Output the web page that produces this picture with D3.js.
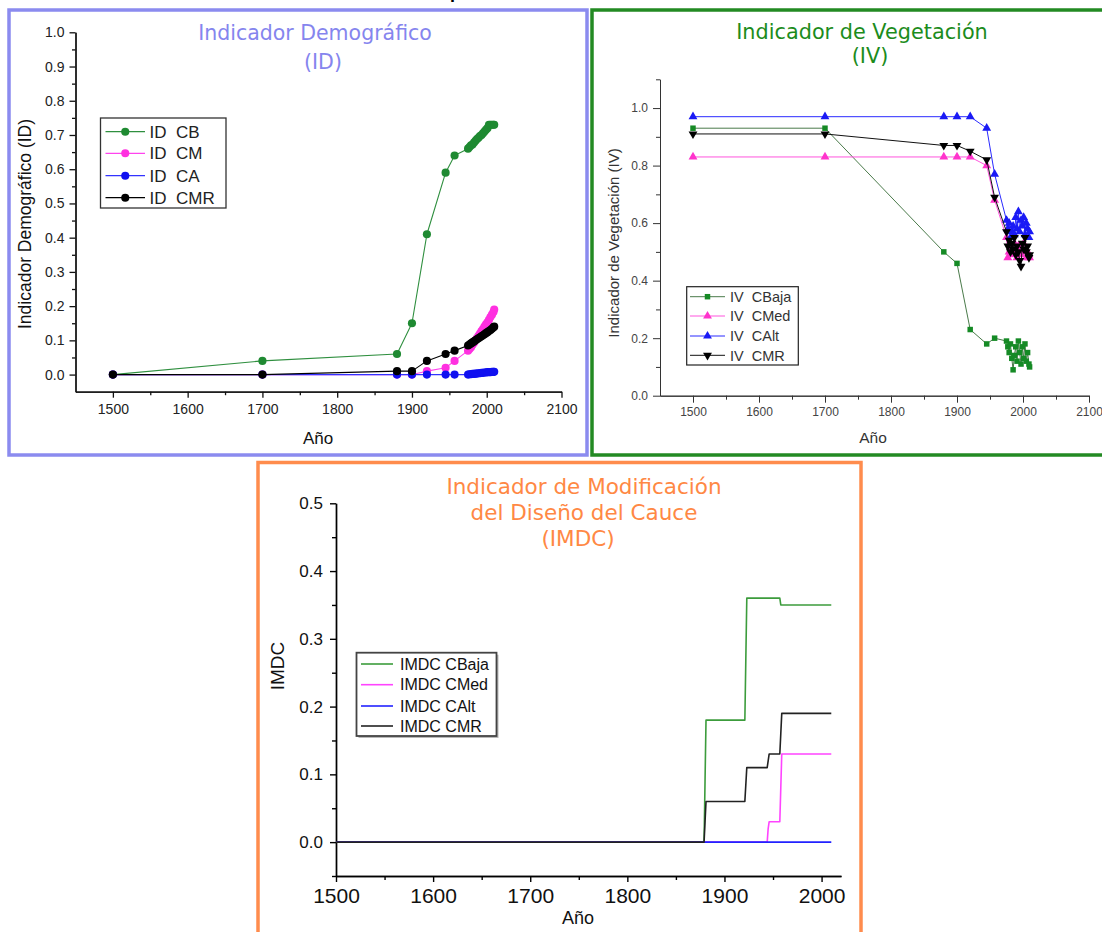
<!DOCTYPE html>
<html><head><meta charset="utf-8">
<script src="https://cdn.jsdelivr.net/npm/d3@7/dist/d3.min.js"></script>
<style>
body{margin:0;background:#fff;}
svg{display:block;}
text{font-family:"Liberation Sans",Arial,sans-serif;}
</style></head><body>
<svg id="c" width="1102" height="932"></svg>
<script>
// ---------------- DATA ----------------
// Panel 1: Indicador Demográfico (ID)
const idYears = [1500,1700,1880,1900,1920,1945,1957,1975,1977,1979,1981,1983,1985,1987,1989,1991,1993,1995,1997,1999,2001,2003,2005,2007,2009,2010];
const idCB  = [0,0.04,0.06,0.15,0.41,0.59,0.64, 0.66,0.665,0.67,0.672,0.678,0.683,0.688,0.692,0.697,0.70,0.705,0.71,0.715,0.72,0.73,0.73,0.73,0.73,0.73];
const idCM  = [0,0,0,0,0.01,0.02,0.04, 0.07,0.075,0.08,0.087,0.093,0.10,0.107,0.113,0.12,0.127,0.133,0.14,0.147,0.153,0.16,0.168,0.175,0.183,0.19];
const idCA  = [0,0,0,0,0,0,0, 0,0.001,0.001,0.002,0.002,0.003,0.003,0.004,0.004,0.005,0.005,0.006,0.006,0.007,0.007,0.007,0.008,0.008,0.008];
const idCMR = [0,0,0.01,0.01,0.04,0.06,0.07, 0.085,0.088,0.091,0.094,0.097,0.10,0.103,0.106,0.109,0.112,0.115,0.118,0.121,0.124,0.127,0.13,0.134,0.138,0.14];
const idNames = ["ID  CB","ID  CM","ID  CA","ID  CMR"];
const idXTicks = [1500,1600,1700,1800,1900,2000,2100];
const idYTicks = [0,0.1,0.2,0.3,0.4,0.5,0.6,0.7,0.8,0.9,1.0];

// Panel 2: Indicador de Vegetación (IV)
const ivYears = [1500,1700,1880,1900,1920,1945,1957,1975,1977,1979,1981,1983,1985,1987,1989,1991,1993,1995,1997,1999,2001,2003,2005,2007,2009,2010];
const ivCBaja = [0.93,0.93,0.50,0.46,0.23,0.18,0.20, 0.19,0.17,0.15,0.18,0.13,0.09,0.14,0.17,0.12,0.19,0.15,0.11,0.17,0.13,0.18,0.12,0.15,0.11,0.10];
const ivCMed  = [0.83,0.83,0.83,0.83,0.83,0.80,0.68, 0.55,0.48,0.50,0.52,0.49,0.51,0.53,0.50,0.48,0.52,0.50,0.49,0.51,0.53,0.50,0.48,0.50,0.49,0.48];
const ivCAlt  = [0.97,0.97,0.97,0.97,0.97,0.93,0.77, 0.61,0.58,0.60,0.55,0.57,0.59,0.56,0.62,0.58,0.64,0.57,0.61,0.59,0.62,0.56,0.60,0.58,0.55,0.57];
const ivCMR   = [0.91,0.91,0.87,0.87,0.85,0.82,0.69, 0.57,0.52,0.54,0.50,0.53,0.51,0.55,0.49,0.52,0.50,0.47,0.45,0.53,0.51,0.55,0.50,0.52,0.48,0.49];
const ivNames = ["IV  CBaja","IV  CMed","IV  CAlt","IV  CMR"];
const ivXTicks = [1500,1600,1700,1800,1900,2000,2100];
const ivYTicks = [0,0.2,0.4,0.6,0.8,1.0];

// Panel 3: Indicador de Modificación del Diseño del Cauce (IMDC)
const imdcCBajaX = [1500,1879,1880,1881,1921,1922,1923,1957,1958,2010];
const imdcCBajaY = [0,0,0.09,0.18,0.18,0.27,0.36,0.36,0.35,0.35];
const imdcCMedX  = [1500,1944,1945,1946,1957,1958,1959,2010];
const imdcCMedY  = [0,0,0.02,0.03,0.03,0.08,0.13,0.13];
const imdcCAltX  = [1500,2010];
const imdcCAltY  = [0,0];
const imdcCMRX   = [1500,1879,1880,1881,1921,1922,1923,1944,1945,1946,1957,1958,1959,2010];
const imdcCMRY   = [0,0,0.03,0.06,0.06,0.085,0.11,0.11,0.12,0.13,0.13,0.16,0.19,0.19];
const imdcNames = ["IMDC CBaja","IMDC CMed","IMDC CAlt","IMDC CMR"];
const imdcXTicks = [1500,1600,1700,1800,1900,2000];
const imdcYTicks = [0,0.1,0.2,0.3,0.4,0.5];

// ---------------- HELPERS ----------------
const svg = d3.select("#c");
const zip = (xs, ys) => xs.map((v,i)=>[v, ys[i]]);
const fmt1 = d3.format(".1f");

function minorBetween(ticks, step){
  const out=[];
  for(let i=0;i<ticks.length-1;i++){ out.push(+(ticks[i]+step).toFixed(4)); }
  return out;
}

function drawAxes(x, y, o){
  const xAxisY = y.range()[0];
  const yAxisX = x.range()[0];
  const gx = svg.append("g").attr("transform",`translate(0,${xAxisY})`);
  gx.append("g").call(d3.axisBottom(x).tickValues(o.xMinor).tickFormat("").tickSize(o.minLen).tickSizeOuter(0));
  gx.append("g").call(d3.axisBottom(x).tickValues(o.xTicks).tickFormat(d3.format("d")).tickSize(o.majLen).tickSizeOuter(0).tickPadding(o.xPad));
  const gy = svg.append("g").attr("transform",`translate(${yAxisX},0)`);
  gy.append("g").call(d3.axisLeft(y).tickValues(o.yMinor).tickFormat("").tickSize(o.minLen).tickSizeOuter(0));
  gy.append("g").call(d3.axisLeft(y).tickValues(o.yTicks).tickFormat(fmt1).tickSize(o.majLen).tickSizeOuter(0).tickPadding(o.yPad));
  [gx,gy].forEach(g=>{
    g.selectAll("path.domain").attr("stroke",o.axisColor).attr("stroke-width",o.axisW);
    g.selectAll(".tick line").attr("stroke",o.axisColor).attr("stroke-width",o.axisW);
    g.selectAll(".tick text").attr("fill",o.labelColor).style("font-size",o.xFont+"px").style("font-family",'"Liberation Sans",Arial,sans-serif');
  });
  gy.selectAll(".tick text").style("font-size",o.yFont+"px");
}

function marker(g, type, size, color, cx, cy){
  let sym = d3.symbolCircle, rot = 0;
  if(type==="square") sym = d3.symbolSquare;
  if(type==="tri") sym = d3.symbolTriangle;
  if(type==="tridown"){ sym = d3.symbolTriangle; rot = 180; }
  g.append("path").attr("d", d3.symbol().type(sym).size(size)())
    .attr("transform",`translate(${cx},${cy}) rotate(${rot})`)
    .attr("fill",color).attr("stroke","none");
}

function drawSeries(x, y, s){
  const pts = zip(s.xs, s.ys);
  const line = d3.line().x(d=>x(d[0])).y(d=>y(d[1]));
  svg.append("path").datum(pts).attr("d",line).attr("fill","none")
     .attr("stroke",s.line).attr("stroke-width",s.lw).attr("stroke-linejoin","round");
  if(s.marker){
    const g = svg.append("g");
    pts.forEach(p=>marker(g, s.marker, s.msize, s.color, x(p[0]), y(p[1])));
  }
}

function drawLegend(L, series){
  if(L.shadow){
    svg.append("rect").attr("x",L.x+2).attr("y",L.y+2).attr("width",L.w).attr("height",L.h).attr("fill","#b8b8b8");
  }
  svg.append("rect").attr("x",L.x).attr("y",L.y).attr("width",L.w).attr("height",L.h)
     .attr("fill","#fff").attr("stroke",L.stroke).attr("stroke-width",L.sw);
  series.forEach((s,i)=>{
    const cy = L.rows[i];
    svg.append("line").attr("x1",L.lx1).attr("x2",L.lx2).attr("y1",cy).attr("y2",cy)
       .attr("stroke",s.line).attr("stroke-width",L.lw);
    if(s.marker){ marker(svg.append("g"), s.marker, s.msize, s.color, (L.lx1+L.lx2)/2, cy); }
    svg.append("text").attr("x",L.tx).attr("y",cy).attr("dy","0.36em")
       .attr("fill",L.color).style("font-size",L.font+"px").style("white-space","pre")
       .attr("xml:space","preserve").text(s.name);
  });
}

function border(x,y,w,h,color,sw){
  svg.append("rect").attr("x",x).attr("y",y).attr("width",w).attr("height",h)
     .attr("fill","none").attr("stroke",color).attr("stroke-width",sw);
}

function titleLines(lines, color, size){
  lines.forEach(l=>{
    svg.append("text").attr("x",l[0]).attr("y",l[1]).attr("text-anchor","middle")
      .attr("fill",color).style("font-family",'"DejaVu Sans",Verdana,sans-serif')
      .style("font-size",size+"px").text(l[2]);
  });
}

function yTitle(cx, cy, text, size, color){
  svg.append("text").attr("transform",`translate(${cx},${cy}) rotate(-90)`)
    .attr("text-anchor","middle").attr("dy","0.36em").attr("fill",color)
    .style("font-size",size+"px").text(text);
}
function xTitle(cx, cy, text, size, color){
  svg.append("text").attr("x",cx).attr("y",cy).attr("text-anchor","middle").attr("dy","0.36em")
    .attr("fill",color).style("font-size",size+"px").text(text);
}

// cut-off heading above the panels (only its descender shows in the reference)
svg.append("text").attr("x",450).attr("y",-2).attr("fill","#000")
  .style("font-size","18px").style("font-weight","bold").text("p");

// ---------------- PANEL 1: ID ----------------
border(9, 10, 578, 445, "#8b8bef", 3.5);
{
  const x = d3.scaleLinear().domain([1450,2100]).range([75.5,561.5]);
  const y = d3.scaleLinear().domain([-0.05,1.0]).range([391.7,32.3]);
  drawAxes(x,y,{xTicks:idXTicks, xMinor:minorBetween(idXTicks,50), yTicks:idYTicks, yMinor:minorBetween(idYTicks,0.05),
    majLen:6, minLen:3.5, xPad:6, yPad:5, axisColor:"#111", axisW:1.3, labelColor:"#222", xFont:14, yFont:14});
  const S = [
    {xs:idYears, ys:idCB,  line:"#2f8f3f", color:"#1f8a32", marker:"circle", msize:52, lw:1.1, name:idNames[0]},
    {xs:idYears, ys:idCM,  line:"#ff44ee", color:"#ff30e0", marker:"circle", msize:52, lw:1.1, name:idNames[1]},
    {xs:idYears, ys:idCA,  line:"#3333ff", color:"#1010f0", marker:"circle", msize:52, lw:1.1, name:idNames[2]},
    {xs:idYears, ys:idCMR, line:"#000",    color:"#000",    marker:"circle", msize:52, lw:1.1, name:idNames[3]}
  ];
  S.forEach(s=>drawSeries(x,y,s));
  drawLegend({x:100.5,y:118,w:125.5,h:90,stroke:"#333",sw:1.3,rows:[131.7,153.3,175.7,197.7],
    lx1:105.5,lx2:145,lw:1.2,tx:149.5,font:17,color:"#222"}, S);
  titleLines([[315,40,"Indicador Demográfico"],[323,69,"(ID)"]], "#8585ee", 20.5);
  yTitle(25, 224, "Indicador Demográfico (ID)", 17.5, "#111");
  xTitle(318, 438, "Año", 17, "#111");
}

// ---------------- PANEL 2: IV ----------------
border(592, 10, 520, 445, "#238a23", 3.5);
{
  const x = d3.scaleLinear().domain([1450,2100]).range([660,1089]);
  const y = d3.scaleLinear().domain([0,1.1]).range([395.7,79.3]);
  drawAxes(x,y,{xTicks:ivXTicks, xMinor:minorBetween(ivXTicks,50), yTicks:ivYTicks, yMinor:[0.1,0.3,0.5,0.7,0.9,1.1],
    majLen:7, minLen:4, xPad:5, yPad:5, axisColor:"#333", axisW:1, labelColor:"#444", xFont:12, yFont:12});
  const S = [
    {xs:ivYears, ys:ivCBaja, line:"#4a7a4a", color:"#158a25", marker:"square",  msize:30, lw:1, name:ivNames[0]},
    {xs:ivYears, ys:ivCMed,  line:"#ff55dd", color:"#ff33cc", marker:"tri",     msize:34, lw:1, name:ivNames[1]},
    {xs:ivYears, ys:ivCAlt,  line:"#2a2aff", color:"#1a1af5", marker:"tri",     msize:34, lw:1, name:ivNames[2]},
    {xs:ivYears, ys:ivCMR,   line:"#111",    color:"#000",    marker:"tridown", msize:34, lw:1, name:ivNames[3]}
  ];
  S.forEach(s=>drawSeries(x,y,s));
  drawLegend({x:686.7,y:286.7,w:111.6,h:78.3,stroke:"#222",sw:1.2,rows:[296.7,316,336,355.3],
    lx1:690,lx2:725,lw:1,tx:730,font:14.5,color:"#333"}, S);
  titleLines([[862,39.3,"Indicador de Vegetación"],[870,62.7,"(IV)"]], "#1c8c1c", 20.8);
  yTitle(614, 243, "Indicador de Vegetación (IV)", 15, "#333");
  xTitle(873, 437, "Año", 15.5, "#333");
}

// ---------------- PANEL 3: IMDC ----------------
border(258, 462.5, 603, 480, "#ff8c4d", 3.5);
{
  const x = d3.scaleLinear().domain([1500,2020]).range([336,841]);
  const y = d3.scaleLinear().domain([-0.05,0.5]).range([876,503.3]);
  drawAxes(x,y,{xTicks:imdcXTicks, xMinor:[1550,1650,1750,1850,1950], yTicks:imdcYTicks, yMinor:[-0.05,0.05,0.15,0.25,0.35,0.45],
    majLen:6, minLen:4, xPad:6, yPad:7, axisColor:"#000", axisW:1.4, labelColor:"#111", xFont:21, yFont:17});
  const S = [
    {xs:imdcCBajaX, ys:imdcCBajaY, line:"#3c9c3c", lw:1.6, name:imdcNames[0]},
    {xs:imdcCMedX,  ys:imdcCMedY,  line:"#ff44ff", lw:1.6, name:imdcNames[1]},
    {xs:imdcCAltX,  ys:imdcCAltY,  line:"#2222ff", lw:1.6, name:imdcNames[2]},
    {xs:imdcCMRX,   ys:imdcCMRY,   line:"#222",    lw:1.6, name:imdcNames[3]}
  ];
  S.forEach(s=>drawSeries(x,y,s));
  drawLegend({x:356.5,y:652.7,w:140,h:83.3,stroke:"#444",sw:1.8,shadow:true,rows:[664,684.7,706,726],
    lx1:361,lx2:393,lw:1.6,tx:400,font:16,color:"#111"}, S);
  titleLines([[584,494,"Indicador de Modificación"],[584,519.5,"del Diseño del Cauce"],[578,546,"(IMDC)"]], "#ff8844", 21.5);
  yTitle(277, 666, "IMDC", 19, "#111");
  xTitle(578, 918, "Año", 18, "#111");
}
</script>
</body></html>
